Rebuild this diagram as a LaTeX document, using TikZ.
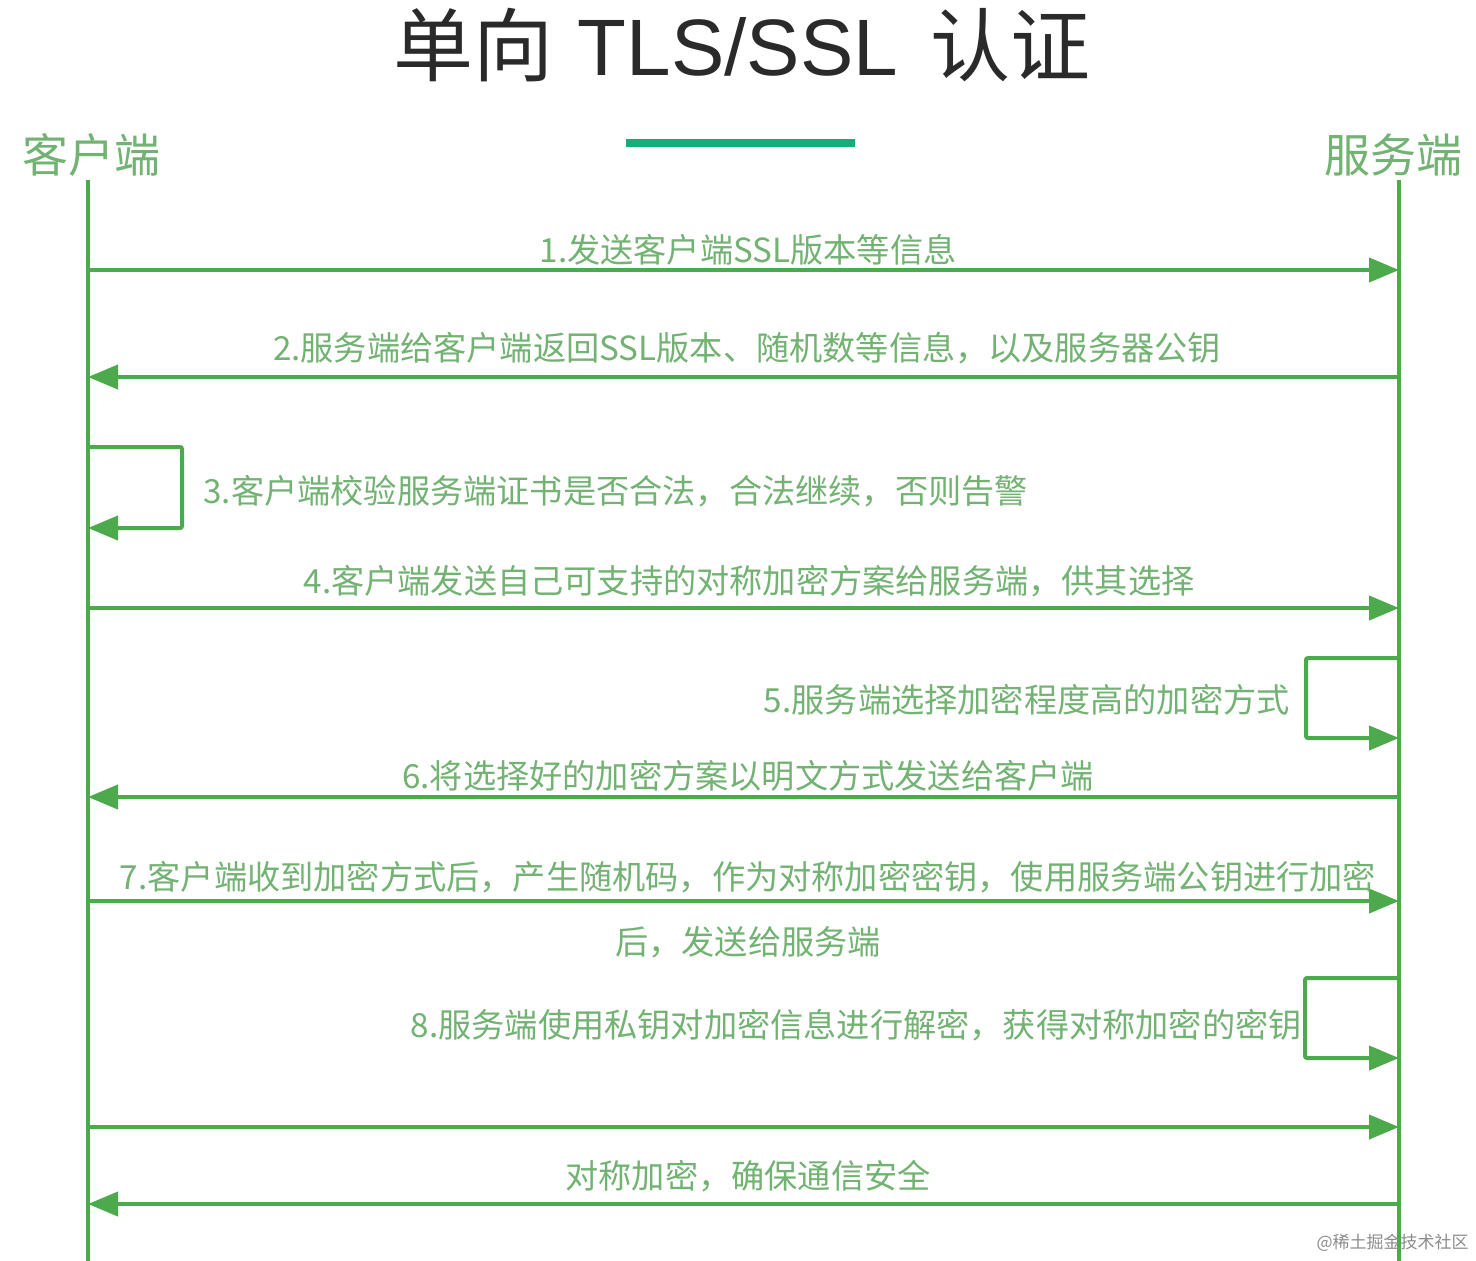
\documentclass[tikz,border=0pt]{standalone}
\usepackage{fontspec}
\setmainfont{Noto Sans CJK SC}
\newfontfamily\latinfont{Liberation Sans}
\usetikzlibrary{arrows.meta}
\definecolor{lineg}{HTML}{4CAA4C}
\definecolor{textg}{HTML}{72B272}
\definecolor{barg}{HTML}{14AE78}
\definecolor{titlec}{HTML}{2A2A2A}
\tikzset{
  lifeline/.style={draw=lineg, line width=2pt},
  msg/.style={draw=lineg, line width=2pt, -{Triangle[length=15pt,width=12pt]}},
  loopmsg/.style={draw=lineg, line width=2pt, rounded corners=1pt, -{Triangle[length=15pt,width=12pt]}},
  lbl/.style={text=textg, font=\fontsize{16.6pt}{19pt}\selectfont, inner sep=0pt},
  hdr/.style={text=textg, font=\fontsize{23pt}{26pt}\selectfont, inner sep=0pt},
}
\begin{document}
\begin{tikzpicture}[x=0.5pt,y=-0.5pt]
\useasboundingbox[fill=white] (0,0) rectangle (1476,1260);
% title
\node[inner sep=0pt, text=titlec, font=\fontsize{40pt}{44pt}\selectfont] (title) at (742,45)
  {单向\hspace{12pt}{\latinfont TLS/SSL}\hspace{16pt}认证};
\node[fill=barg, minimum width=114.5pt, minimum height=4pt, inner sep=0pt] (bar) at (740.5,143) {};
% headers
\node[hdr] (client) at (91,155) {客户端};
\node[hdr] (server) at (1393,155) {服务端};
% lifelines
\coordinate (cT) at (88,180); \coordinate (cB) at (88,1262);
\coordinate (sT) at (1399,180); \coordinate (sB) at (1399,1262);
\draw[lifeline] (cT) -- (cB);
\draw[lifeline] (sT) -- (sB);
% message 1
\coordinate (m1a) at (88,270); \coordinate (m1b) at (1399,270);
\draw[msg] (m1a) -- (m1b);
\node[lbl] (l1) at (748,250) {1.发送客户端SSL版本等信息};
% message 2
\coordinate (m2a) at (1399,377); \coordinate (m2b) at (88,377);
\draw[msg] (m2a) -- (m2b);
\node[lbl] (l2) at (747,348) {2.服务端给客户端返回SSL版本、随机数等信息，以及服务器公钥};
% message 3 (self loop)
\coordinate (m3a) at (88,447); \coordinate (m3b) at (88,528);
\draw[loopmsg] (m3a) -- (182,447) -- (182,528) -- (m3b);
\node[lbl, anchor=west] (l3) at (203,491) {3.客户端校验服务端证书是否合法，合法继续，否则告警};
% message 4
\coordinate (m4a) at (88,608); \coordinate (m4b) at (1399,608);
\draw[msg] (m4a) -- (m4b);
\node[lbl] (l4) at (749,581) {4.客户端发送自己可支持的对称加密方案给服务端，供其选择};
% message 5 (self loop)
\coordinate (m5a) at (1399,658); \coordinate (m5b) at (1399,738);
\draw[loopmsg] (m5a) -- (1306,658) -- (1306,738) -- (m5b);
\node[lbl, anchor=east] (l5) at (1290,700) {5.服务端选择加密程度高的加密方式};
% message 6
\coordinate (m6a) at (1399,797); \coordinate (m6b) at (88,797);
\draw[msg] (m6a) -- (m6b);
\node[lbl] (l6) at (748,776) {6.将选择好的加密方案以明文方式发送给客户端};
% message 7
\coordinate (m7a) at (88,901); \coordinate (m7b) at (1399,901);
\draw[msg] (m7a) -- (m7b);
\node[lbl] (l7a) at (748,877) {7.客户端收到加密方式后，产生随机码，作为对称加密密钥，使用服务端公钥进行加密};
\node[lbl] (l7b) at (748,942) {后，发送给服务端};
% message 8 (self loop)
\coordinate (m8a) at (1399,978); \coordinate (m8b) at (1399,1058);
\draw[loopmsg] (m8a) -- (1305,978) -- (1305,1058) -- (m8b);
\node[lbl, anchor=east] (l8) at (1302,1025) {8.服务端使用私钥对加密信息进行解密，获得对称加密的密钥};
% message 9
\coordinate (m9a) at (88,1127); \coordinate (m9b) at (1399,1127);
\draw[msg] (m9a) -- (m9b);
% message 10
\coordinate (m10a) at (1399,1204); \coordinate (m10b) at (88,1204);
\draw[msg] (m10a) -- (m10b);
\node[lbl] (l10) at (748,1176) {对称加密，确保通信安全};
% watermark
\node[inner sep=0pt, text=black!45, font=\fontsize{8.5pt}{10pt}\selectfont, anchor=east] (wm) at (1469,1243) {@稀土掘金技术社区};
\end{tikzpicture}
\end{document}
